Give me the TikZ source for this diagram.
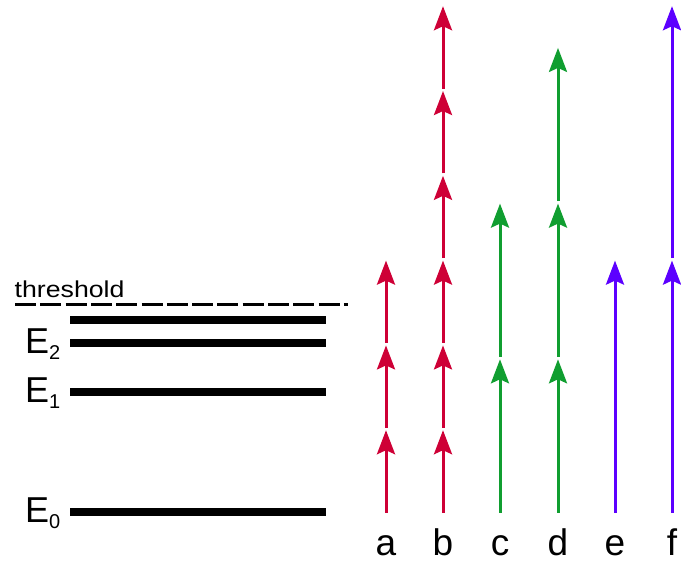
\documentclass[tikz,border=0pt]{standalone}
\usepackage{fontspec}
\setmainfont{Liberation Sans}
\usetikzlibrary{arrows.meta}
\definecolor{pred}{RGB}{206,0,54}
\definecolor{pgreen}{RGB}{16,158,48}
\definecolor{pviolet}{RGB}{92,0,255}
\tikzset{
  level/.style={line width=8.5pt},
  photon/.style={line width=3pt, -{Stealth[length=24pt,width=18pt,inset=4pt]}, shorten <=2.5pt},
  thresh/.style={line width=3.6pt, dash pattern=on 21pt off 4.3pt},
  lbl/.style={anchor=base, inner sep=0pt, font=\fontsize{37}{40}\selectfont},
  elbl/.style={anchor=base west, inner sep=0pt, font=\fontsize{36}{40}\selectfont},
}
\newcommand{\lvsub}[1]{\raisebox{-6pt}{\fontsize{20}{22}\selectfont #1}}
\begin{document}
\begin{tikzpicture}[x=1pt,y=-1pt]
\useasboundingbox (0,0) rectangle (681,563);
% energy levels
\foreach \nm/\y in {L3/320, L2/343, L1/392, L0/512} {
  \coordinate (\nm w) at (70,\y);
  \coordinate (\nm e) at (326,\y);
  \draw[level] (\nm w) -- (\nm e);
}
\node[elbl] (E2) at (25,353) {E\lvsub{2}};
\node[elbl] (E1) at (25,402) {E\lvsub{1}};
\node[elbl] (E0) at (25,522) {E\lvsub{0}};
% threshold
\coordinate (Tw) at (15,304.5);
\coordinate (Te) at (348,304.5);
\draw[thresh] (Tw) -- (Te);
\node[anchor=base west, inner sep=0pt, font=\fontsize{23}{25}\selectfont] (thr) at (14.5,297.5) {\scalebox{1.16}[1]{threshold}};
% photons
\foreach \col/\x/\n/\st/\c in {a/386/3/84.8/pred, b/443/6/84.8/pred, c/500/2/155.7/pgreen, d/558/3/155.7/pgreen, e/615/1/254.4/pviolet, f/672/2/254.4/pviolet} {
  \foreach \i in {0,...,\n} { \coordinate (\col\i) at (\x, 515-\i*\st); }
  \foreach \i [evaluate=\i as \j using int(\i-1)] in {1,...,\n} { \draw[photon, \c] (\col\j) -- (\col\i); }
  \node[lbl] (lab\col) at (\x,555) {\col};
}
\end{tikzpicture}
\end{document}
